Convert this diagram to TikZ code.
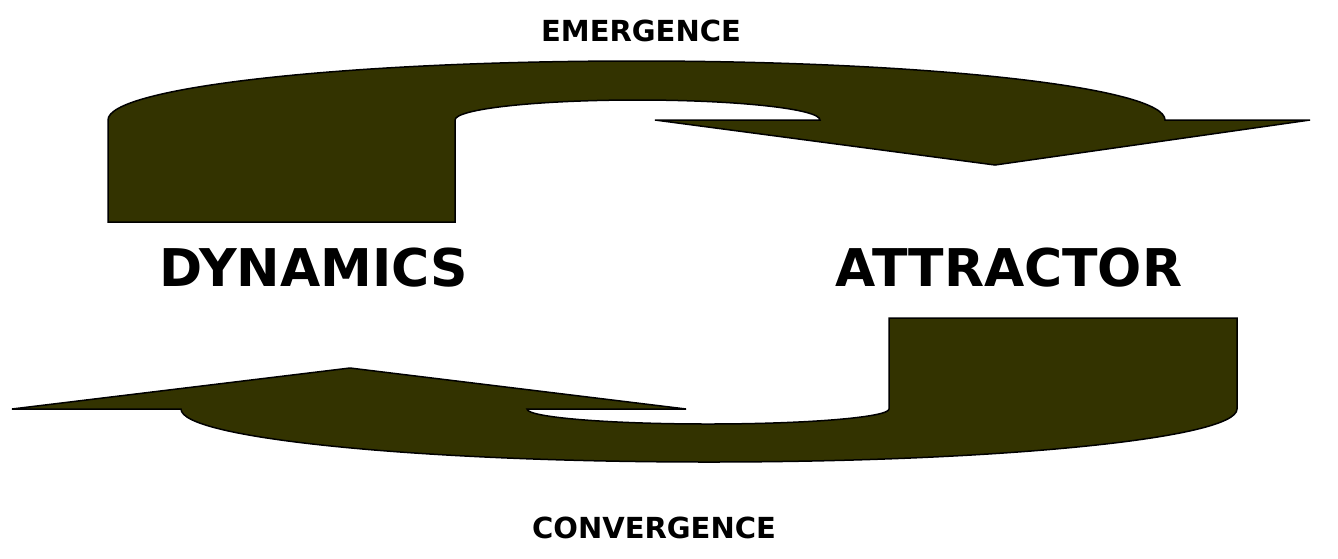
\documentclass[tikz,border=0pt]{standalone}
\usepackage{fontspec}
\setmainfont{DejaVu Sans}
\definecolor{olivedark}{RGB}{51,51,0}
\usetikzlibrary{positioning}

\begin{document}
\begin{tikzpicture}[x=1pt, y=1pt,
      blk/.style={draw=black, line width=1.5pt, fill=olivedark},
      big/.style={font=\fontsize{52}{60}\selectfont\bfseries, inner sep=0pt},
      lbl/.style={font=\fontsize{29}{32}\selectfont\bfseries, inner sep=0pt}
    ]
    \useasboundingbox (0,0) rectangle (1338,-558);

    \node[lbl] (em)   at (641,-31)  {EMERGENCE};
    \node[big] (dyn)  at (314,-268) {DYNAMICS};
    \node[big] (att)  at (1009,-268) {ATTRACTOR};
    \node[lbl] (conv) at (654,-528) {CONVERGENCE};

    % upper u-turn arrow, dynamics -> attractor
    \draw[blk] (108,-222) -- (108,-120)
      arc[start angle=180, end angle=0, x radius=528.5, y radius=59]
      -- (1310,-120) -- (995,-165) -- (655,-120) -- (820,-120)
      arc[start angle=0, end angle=180, x radius=182.5, y radius=20]
      -- (455,-222) -- cycle;

    % lower u-turn arrow, attractor -> dynamics
    \draw[blk] (889,-318) -- (1237,-318) -- (1237,-409)
      arc[start angle=0, end angle=-180, x radius=528, y radius=53]
      -- (12,-409) -- (350,-368) -- (686,-409) -- (527,-409)
      arc[start angle=180, end angle=360, x radius=181, y radius=15]
      -- cycle;
  \end{tikzpicture}
\end{document}
